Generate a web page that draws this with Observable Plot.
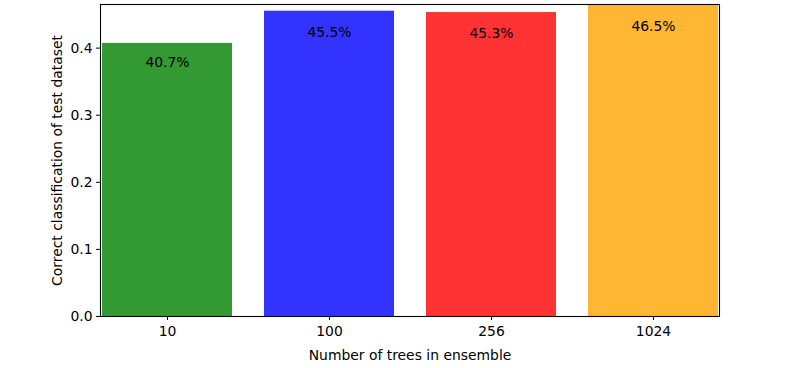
<!DOCTYPE html>
<html>
<head>
<meta charset="utf-8">
<script src="https://cdn.jsdelivr.net/npm/d3@7"></script>
<script src="https://cdn.jsdelivr.net/npm/@observablehq/plot@0.6"></script>
<style>
  html, body { margin: 0; padding: 0; background: #fff; }
  svg { font-family: "DejaVu Sans", sans-serif; }
</style>
</head>
<body>
<div id="chart"></div>
<script>
const categories = ["10", "100", "256", "1024"];
const accuracy = [0.407, 0.455, 0.453, 0.465];
const colors = ["#339933", "#3333ff", "#ff3333", "#ffb733"];
const yTicks = [0, 0.1, 0.2, 0.3, 0.4];

const data = categories.map((c, i) => ({cat: c, value: accuracy[i], color: colors[i]}));

const chart = Plot.plot({
  width: 799,
  height: 368,
  marginLeft: 100,
  marginRight: 80,
  marginTop: 4,
  marginBottom: 52,
  style: {fontFamily: "DejaVu Sans, sans-serif", fontSize: "13.9px", color: "black", background: "white"},
  x: {domain: categories, paddingInner: 0.2, paddingOuter: 0},
  y: {domain: [0, 0.465]},
  marks: [
    Plot.barY(data, {x: "cat", y: "value", fill: "color"}),
    Plot.text(data, {x: "cat", y: d => d.value * 0.93, text: d => (d.value * 100).toFixed(1) + "%", fill: "black", fontSize: 13.9}),
    Plot.frame({stroke: "black", strokeWidth: 1.1}),
    Plot.axisY({ticks: yTicks, tickFormat: d3.format(".1f"), tickSize: 4, tickPadding: 4, fontSize: 13.9,
      label: "Correct classification of test dataset", labelAnchor: "center", labelOffset: 48, labelArrow: "none"}),
    Plot.axisX({tickSize: 4, tickPadding: 6, fontSize: 13.9,
      label: "Number of trees in ensemble", labelAnchor: "center", labelOffset: 43, labelArrow: "none"})
  ]
});
document.getElementById("chart").appendChild(chart);
</script>
</body>
</html>
